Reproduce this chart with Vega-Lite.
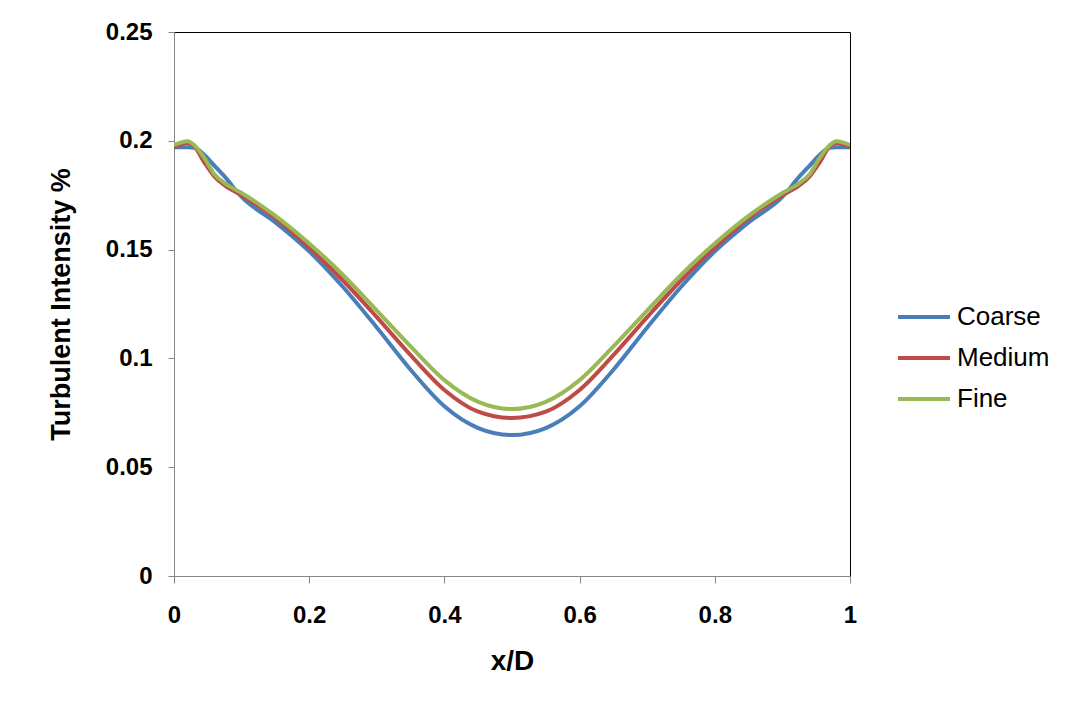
{
  "$schema": "https://vega.github.io/schema/vega-lite/v6.json",
  "width": 676,
  "height": 544,
  "autosize": {"type": "none"},
  "padding": {"left": 174, "top": 32, "right": 220, "bottom": 131},
  "background": "white",
  "config": {
    "font": "Liberation Sans",
    "view": {"stroke": "black", "strokeWidth": 1},
    "axis": {"grid": false, "labelFlush": false, "domainColor": "#868686", "tickColor": "#868686", "labelColor": "black", "titleColor": "black", "labelFont": "Liberation Sans", "titleFont": "Liberation Sans"}
  },
  "data": {"values": [
    {"x": 0, "Coarse": 0.197, "Medium": 0.197, "Fine": 0.198},
    {"x": 0.02, "Coarse": 0.197, "Medium": 0.199, "Fine": 0.1998},
    {"x": 0.03, "Coarse": 0.1968, "Medium": 0.1975, "Fine": 0.198},
    {"x": 0.045, "Coarse": 0.1935, "Medium": 0.19, "Fine": 0.192},
    {"x": 0.06, "Coarse": 0.1885, "Medium": 0.1835, "Fine": 0.1845},
    {"x": 0.075, "Coarse": 0.1835, "Medium": 0.1795, "Fine": 0.1805},
    {"x": 0.1, "Coarse": 0.1742, "Medium": 0.175, "Fine": 0.176},
    {"x": 0.15, "Coarse": 0.1625, "Medium": 0.1645, "Fine": 0.1655},
    {"x": 0.2, "Coarse": 0.1492, "Medium": 0.151, "Fine": 0.1528},
    {"x": 0.25, "Coarse": 0.1328, "Medium": 0.1358, "Fine": 0.1384},
    {"x": 0.3, "Coarse": 0.1142, "Medium": 0.119, "Fine": 0.122},
    {"x": 0.35, "Coarse": 0.0948, "Medium": 0.1015, "Fine": 0.1055},
    {"x": 0.4, "Coarse": 0.078, "Medium": 0.0855, "Fine": 0.09},
    {"x": 0.45, "Coarse": 0.068, "Medium": 0.0755, "Fine": 0.08},
    {"x": 0.5, "Coarse": 0.0648, "Medium": 0.0726, "Fine": 0.0767},
    {"x": 0.55, "Coarse": 0.068, "Medium": 0.0755, "Fine": 0.08},
    {"x": 0.6, "Coarse": 0.078, "Medium": 0.0855, "Fine": 0.09},
    {"x": 0.65, "Coarse": 0.0948, "Medium": 0.1015, "Fine": 0.1055},
    {"x": 0.7, "Coarse": 0.1142, "Medium": 0.119, "Fine": 0.122},
    {"x": 0.75, "Coarse": 0.1328, "Medium": 0.1358, "Fine": 0.1384},
    {"x": 0.8, "Coarse": 0.1492, "Medium": 0.151, "Fine": 0.1528},
    {"x": 0.85, "Coarse": 0.1625, "Medium": 0.1645, "Fine": 0.1655},
    {"x": 0.9, "Coarse": 0.1742, "Medium": 0.175, "Fine": 0.176},
    {"x": 0.925, "Coarse": 0.1835, "Medium": 0.1795, "Fine": 0.1805},
    {"x": 0.94, "Coarse": 0.1885, "Medium": 0.1835, "Fine": 0.1845},
    {"x": 0.955, "Coarse": 0.1935, "Medium": 0.19, "Fine": 0.192},
    {"x": 0.97, "Coarse": 0.1968, "Medium": 0.1975, "Fine": 0.198},
    {"x": 0.98, "Coarse": 0.197, "Medium": 0.199, "Fine": 0.1998},
    {"x": 1, "Coarse": 0.197, "Medium": 0.197, "Fine": 0.198}
  ]},
  "transform": [{"fold": ["Coarse", "Medium", "Fine"], "as": ["series", "value"]}],
  "mark": {"type": "line", "interpolate": "monotone", "strokeWidth": 4, "clip": true},
  "encoding": {
    "x": {"field": "x", "type": "quantitative", "scale": {"domain": [0, 1], "nice": false},
      "axis": {"values": [0, 0.2, 0.4, 0.6, 0.8, 1], "format": "~g", "title": "x/D", "labelFontSize": 24, "labelFontWeight": "bold", "labelPadding": 20, "tickSize": 7, "titleFontSize": 28, "titleFontWeight": "bold", "titlePadding": 20}},
    "y": {"field": "value", "type": "quantitative", "scale": {"domain": [0, 0.25], "nice": false},
      "axis": {"values": [0, 0.05, 0.1, 0.15, 0.2, 0.25], "format": "~g", "title": "Turbulent Intensity %", "labelFontSize": 24, "labelFontWeight": "bold", "labelPadding": 16, "tickSize": 6, "titleFontSize": 27, "titleFontWeight": "bold", "titlePadding": 30}},
    "color": {"field": "series", "type": "nominal", "sort": ["Coarse", "Medium", "Fine"],
      "scale": {"domain": ["Coarse", "Medium", "Fine"], "range": ["#4a7ebb", "#be4b48", "#98b954"]},
      "legend": {"title": null, "orient": "none", "legendX": 722, "legendY": 257, "symbolType": "stroke", "symbolStrokeWidth": 4, "symbolSize": 2700, "labelFontSize": 26, "labelFont": "Liberation Sans", "labelColor": "black", "labelOffset": 5, "rowPadding": 0}}
  }
}
